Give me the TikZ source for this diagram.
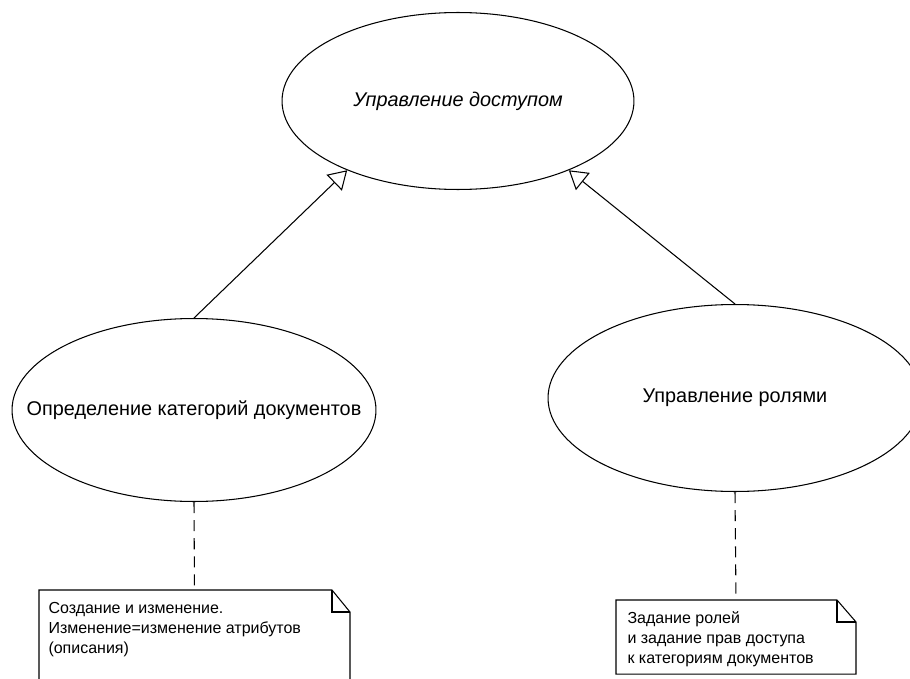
\documentclass[tikz,border=0pt]{standalone}
\usepackage{fontspec}
\setmainfont{Liberation Sans}
\usepackage{tikz}
\usetikzlibrary{arrows.meta,shapes.geometric,positioning,calc}

\begin{document}
\begin{tikzpicture}[x=0.02cm,y=-0.02cm,semithick,
    usecase/.style={draw,ellipse,inner sep=0pt},
    every label/.style={font=\fontsize{11.3}{13.5}\selectfont},
    note/.style={rectangle,inner sep=0pt,anchor=north west},
    notetext/.style={anchor=north west,inner sep=0pt,align=left,font=\fontsize{9.1}{11.3}\selectfont},
    gen/.style={-{Triangle[open,length=0.36cm,width=0.44cm]}},
    dep/.style={dash pattern=on 6.3pt off 4pt}]

    \clip (0, 0) rectangle (910, 679);

    \node[usecase,minimum width=7.04cm,minimum height=3.54cm,label=center:{\itshape Управление доступом}](access) at (458, 101) {};
    \node[usecase,minimum width=7.28cm,minimum height=3.66cm,label=center:{Определение категорий документов}](categ) at (194, 410) {};
    \node[usecase,minimum width=7.48cm,minimum height=3.74cm,label=center:{Управление ролями}](roles) at (735, 398) {};

    \draw[gen] (categ.north) -- (access.212);
    \draw[gen] (roles.north) -- (access.-32);

    % notes
    \node[note,minimum width=6.2cm,minimum height=2.2cm](n1) at (39, 590) {};
    \node[notetext](n1text) at (48, 602) {Создание и изменение.\\Изменение=изменение атрибутов\\(описания)};
    \draw (n1.north west) -- ($(n1.north east)+(-18,0)$) -- ($(n1.north east)+(0,22)$) -- (n1.south east) -- (n1.south west) -- cycle;
    \draw ($(n1.north east)+(-18,0)$) -- ($(n1.north east)+(-18,22)$) -- ($(n1.north east)+(0,22)$);

    \node[note,minimum width=4.78cm,minimum height=1.46cm](n2) at (616, 600) {};
    \node[notetext](n2text) at (627, 611) {Задание ролей\\и задание прав доступа\\к категориям документов};
    \draw (n2.north west) -- ($(n2.north east)+(-19,0)$) -- ($(n2.north east)+(0,22)$) -- (n2.south east) -- (n2.south west) -- cycle;
    \draw ($(n2.north east)+(-19,0)$) -- ($(n2.north east)+(-19,22)$) -- ($(n2.north east)+(0,22)$);

    \draw[dep] (categ.south) -- (n1.north);
    \draw[dep] (roles.south) -- (n2.north);

\end{tikzpicture}
\end{document}
